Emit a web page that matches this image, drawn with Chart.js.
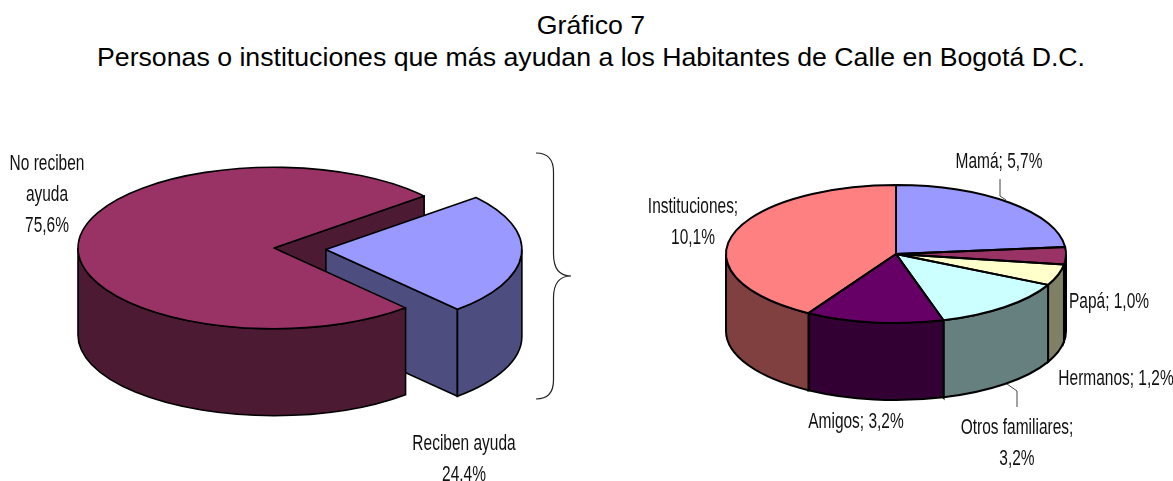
<!DOCTYPE html>
<html lang="es">
<head>
<meta charset="utf-8">
<title>Gráfico 7</title>
<script src="https://cdn.jsdelivr.net/npm/chart.js@4"></script>
<style>
    html, body { margin: 0; padding: 0; background: #fff; }
    #page { position: relative; width: 1173px; height: 481px; overflow: hidden; color: #000; }
    canvas { position: absolute; top: 0; }
    #left-pie { left: 0; }
    #right-pie { left: 619px; }
    svg { position: absolute; left: 0; top: 0; }
    .title { position: absolute; left: 0; width: 1182px; text-align: center; font: 26.7px "Liberation Sans", Arial, sans-serif; line-height: 32px; white-space: nowrap; }
    .label { position: absolute; text-align: center; font: 21.5px "Liberation Sans", Arial, sans-serif; line-height: 31px; white-space: nowrap; transform: translateX(-50%) scaleX(0.72); color: #111; }
</style>
</head>
<body>
<div id="page">
    <div class="title" style="top: 9px">Gráfico 7</div>
    <div class="title" style="top: 41px">Personas o instituciones que más ayudan a los Habitantes de Calle en Bogotá D.C.</div>
    <canvas id="left-pie" width="548" height="481"></canvas>
    <canvas id="right-pie" width="554" height="481"></canvas>
    <svg width="1173" height="481" fill="none">
        <path d="M536 153 C548 153 553.5 160 553.5 172 L553.5 254 C553.5 268 559 276 571 276 C559 276 553.5 284 553.5 298 L553.5 380 C553.5 392 548 399 536 399" stroke="#222" stroke-width="1.2"/>
        <path d="M1007 384 L1017 391 L1017 407" stroke="#444" stroke-width="1"/>
        <path d="M1000 179 L1000 196 L1006 200" stroke="#444" stroke-width="1"/>
    </svg>
    <div id="labels"></div>
</div>
<script>
// left pie: people who do or do not receive help
const leftLabels = ["Reciben ayuda", "No reciben ayuda"];
const leftValues = [24.4, 75.6];
const leftColors = ["#9999FF", "#993366"];
const leftWalls = ["#4D4D80", "#4D1A33"];

// right pie: breakdown of who helps
const rightLabels = ["Mamá", "Papá", "Hermanos", "Otros familiares", "Amigos", "Instituciones"];
const rightValues = [5.7, 1.0, 1.2, 3.2, 3.2, 10.1];
const rightColors = ["#9999FF", "#993366", "#FFFFCC", "#CCFFFF", "#660066", "#FF8080"];
const rightWalls = ["#4D4D80", "#4D1A33", "#808066", "#668080", "#330033", "#804040"];

const TWO_PI = Math.PI * 2;

// text pieces of the data labels, placed by hand like the original
const labelBoxes = [
    { x: 47, y: 148, lines: ["No reciben", "ayuda", "75,6%"] },
    { x: 464, y: 428, lines: ["Reciben ayuda", "24.4%"] },
    { x: 999, y: 146, lines: ["Mamá; 5,7%"] },
    { x: 693, y: 191, lines: ["Instituciones;", "10,1%"] },
    { x: 1109, y: 286, lines: ["Papá; 1,0%"] },
    { x: 1116, y: 363, lines: ["Hermanos; 1,2%"] },
    { x: 1017, y: 412, lines: ["Otros familiares;", "3,2%"] },
    { x: 856, y: 406, lines: ["Amigos; 3,2%"] }
];

const labelsDiv = document.getElementById("labels");
labelBoxes.forEach(box => {
    const div = document.createElement("div");
    div.className = "label";
    div.style.left = box.x + "px";
    div.style.top = box.y + "px";
    div.innerHTML = box.lines.join("<br>");
    labelsDiv.appendChild(div);
});

// Chart.js has no 3D pie, so this squashes the arcs and draws the walls under them
const pie3d = {
    id: "pie3d",
    afterDatasetsUpdate(chart, args, opts) {
        const arcs = chart.getDatasetMeta(0).data;
        arcs.forEach((arc, i) => {
            const mid = (arc.startAngle + arc.endAngle) / 2;
            arc.baseY = arc.y;
            arc.x += Math.cos(mid) * opts.explode[i]; // pull the slice out of the pie
            arc.y += Math.sin(mid) * opts.explode[i];
        });
    },
    beforeDatasetsDraw(chart, args, opts) {
        const ctx = chart.ctx;
        const arcs = chart.getDatasetMeta(0).data;
        const baseY = arcs[0].baseY;
        const screen = arc => ({ x: arc.x, y: opts.centerY + (arc.y - baseY) * opts.squash, rx: arc.outerRadius, ry: arc.outerRadius * opts.squash });

        // flat cut faces first, the ones further back go first
        const faces = [];
        arcs.forEach((arc, i) => {
            const s = screen(arc);
            [[arc.startAngle, -1], [arc.endAngle, 1]].forEach(([angle, side]) => {
                if (Math.cos(angle) * side <= 0) return; // this face looks away from us
                faces.push({ s, angle, color: opts.walls[i], sort: s.y + s.ry * Math.sin(angle) / 2 });
            });
        });
        faces.sort((a, b) => a.sort - b.sort);
        faces.forEach(({ s, angle, color }) => {
            const ex = s.x + s.rx * Math.cos(angle);
            const ey = s.y + s.ry * Math.sin(angle);
            ctx.beginPath();
            ctx.moveTo(s.x, s.y);
            ctx.lineTo(ex, ey);
            ctx.lineTo(ex, ey + opts.depth);
            ctx.lineTo(s.x, s.y + opts.depth);
            ctx.closePath();
            ctx.fillStyle = color;
            ctx.fill();
            ctx.lineWidth = opts.line;
            ctx.strokeStyle = "#000";
            ctx.stroke();
        });

        // outer walls, only the part of the rim that faces the front
        arcs.forEach((arc, i) => {
            const s = screen(arc);
            const start = ((arc.startAngle % TWO_PI) + TWO_PI) % TWO_PI;
            const end = start + (arc.endAngle - arc.startAngle);
            [[0, Math.PI], [TWO_PI, TWO_PI + Math.PI]].forEach(([lo, hi]) => {
                const a = Math.max(start, lo);
                const b = Math.min(end, hi);
                if (b <= a) return;
                ctx.beginPath();
                ctx.ellipse(s.x, s.y, s.rx, s.ry, 0, a, b);
                ctx.ellipse(s.x, s.y + opts.depth, s.rx, s.ry, 0, b, a, true);
                ctx.closePath();
                ctx.fillStyle = opts.walls[i];
                ctx.fill();
                ctx.lineWidth = opts.line;
                ctx.strokeStyle = "#000";
                ctx.stroke();
            });
        });

        ctx.save(); // restored in afterDatasetsDraw
        ctx.translate(0, opts.centerY);
        ctx.scale(1, opts.squash);
        ctx.translate(0, -baseY);
    },
    afterDatasetsDraw(chart, args, opts) {
        const ctx = chart.ctx;
        ctx.restore();
        const arcs = chart.getDatasetMeta(0).data;
        const baseY = arcs[0].baseY;
        arcs.forEach(arc => { // outline drawn here so the squash doesn't thin it
            const x = arc.x;
            const y = opts.centerY + (arc.y - baseY) * opts.squash;
            ctx.beginPath();
            ctx.moveTo(x, y);
            ctx.ellipse(x, y, arc.outerRadius, arc.outerRadius * opts.squash, 0, arc.startAngle, arc.endAngle);
            ctx.closePath();
            ctx.lineWidth = opts.line;
            ctx.lineJoin = "round";
            ctx.strokeStyle = "#000";
            ctx.stroke();
        });
    }
};

const makePie = (id, labels, values, colors, walls, radius, rotation, shape) => {
    new Chart(document.getElementById(id), {
        type: "pie",
        data: {
            labels: labels,
            datasets: [{
                data: values,
                backgroundColor: colors,
                borderWidth: 0,
                radius: radius,
                clip: false
            }]
        },
        options: {
            responsive: false,
            animation: false,
            rotation: rotation,
            plugins: {
                legend: { display: false },
                tooltip: { enabled: false },
                pie3d: { walls: walls, ...shape }
            }
        },
        plugins: [pie3d]
    });
};

makePie("left-pie", leftLabels, leftValues, leftColors, leftWalls, 196, 50, { centerY: 248, squash: 0.412, depth: 87, explode: [52, 0], line: 1.6 });
makePie("right-pie", rightLabels, rightValues, rightColors, rightWalls, 170, 0, { centerY: 254, squash: 0.406, depth: 77, explode: [0, 0, 0, 0, 0, 0], line: 2 });
</script>
</body>
</html>
